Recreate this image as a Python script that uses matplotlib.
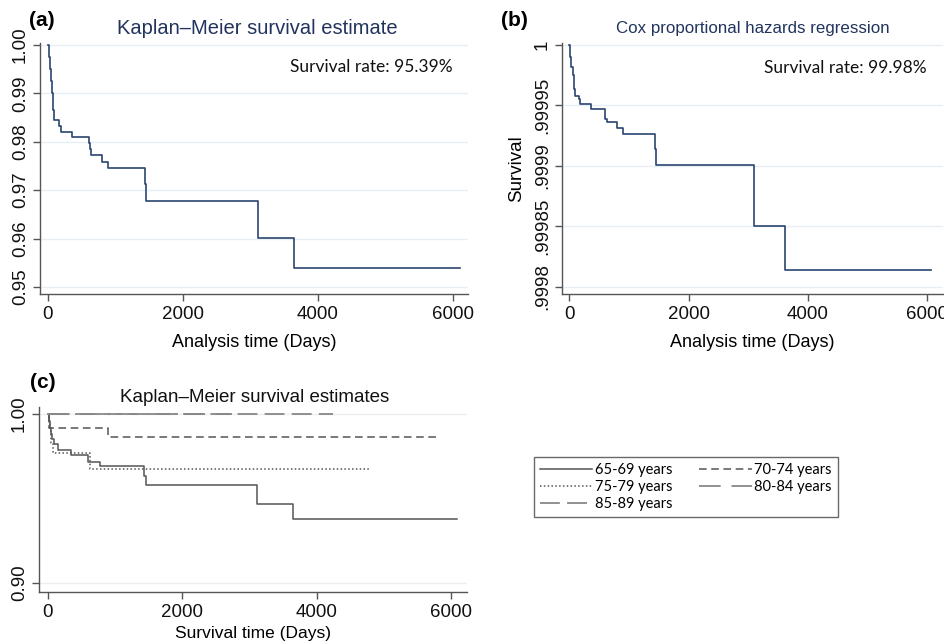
import matplotlib
matplotlib.use("Agg")
import matplotlib.pyplot as plt

# ---------------- data ----------------
# Panel (a): Kaplan-Meier overall (step times in days, survival after step)
km_t = [0, 15, 30, 45, 55, 70, 90, 168, 188, 360, 607, 620, 632, 795, 893, 1437, 1452, 3115, 3644, 6100]
km_s = [1.0, 0.9975, 0.9950, 0.9925, 0.9900, 0.9866, 0.9845, 0.9833, 0.9821, 0.9809, 0.9797,
        0.9785, 0.9773, 0.9759, 0.9746, 0.9712, 0.9678, 0.9601, 0.9540, 0.9540]

# Panel (b): Cox baseline survival
cox_t = [0, 17, 35, 55, 78, 95, 165, 188, 367, 600, 633, 795, 895, 1445, 1462, 3105, 3622, 6070]
cox_s = [1.0, 0.999990, 0.999982, 0.999975, 0.999964, 0.999958, 0.999955, 0.999951, 0.999947,
         0.999939, 0.999936, 0.999931, 0.999926, 0.999914, 0.999901, 0.999850, 0.999814, 0.999814]

# Panel (c): Kaplan-Meier by age group
g65_t = [0, 10, 25, 40, 60, 84, 149, 347, 596, 779, 1430, 1454, 3117, 3643, 6095]
g65_s = [1.0, 0.996, 0.992, 0.988, 0.985, 0.9822, 0.9787, 0.9757, 0.9718, 0.9692, 0.9635,
         0.9580, 0.9466, 0.9379, 0.9379]
g70_t = [0, 10, 20, 898, 5787]
g70_s = [1.0, 0.995, 0.9915, 0.9862, 0.9862]
g75_t = [0, 10, 30, 50, 75, 620, 4785]
g75_s = [1.0, 0.995, 0.990, 0.983, 0.9767, 0.9675, 0.9675]
g80_t = [0, 2740]
g80_s = [1.0, 1.0]
g85_t = [0, 4244]
g85_s = [1.0, 1.0]

group_labels = ["65-69 years", "70-74 years", "75-79 years", "80-84 years", "85-89 years"]

xticks = [0, 2000, 4000, 6000]
a_yticks = [0.95, 0.96, 0.97, 0.98, 0.99, 1.00]
a_yticklabels = ["0.95", "0.96", "0.97", "0.98", "0.99", "1.00"]
b_yticks = [0.9998, 0.99985, 0.9999, 0.99995, 1.0]
b_yticklabels = [".9998", ".99985", ".9999", ".99995", "1"]
c_yticks = [0.90, 1.00]
c_yticklabels = ["0.90", "1.00"]

# ---------------- style ----------------
SANS = ["Liberation Sans", "DejaVu Sans"]
CAL = ["Lato", "DejaVu Sans"]
NAVY = "#2a4470"
TITLE_BLUE = "#22345e"
plt.rcParams["font.family"] = SANS

W, H = 944, 644
fig = plt.figure(figsize=(W / 100, H / 100), dpi=100)


def make_ax(left, right, top, bottom):
    return fig.add_axes([left / W, 1 - bottom / H, (right - left) / W, (bottom - top) / H])


def style_ax(ax, grid_color):
    for s in ["top", "right"]:
        ax.spines[s].set_visible(False)
    for s in ["left", "bottom"]:
        ax.spines[s].set_color("#555555")
        ax.spines[s].set_linewidth(1.0)
    ax.tick_params(axis="both", direction="out", length=5, width=1.0, color="#555555",
                   labelsize=13.5, labelcolor="#111111")
    ax.tick_params(axis="y", labelrotation=90, pad=3)
    for lab in ax.get_yticklabels():
        lab.set_verticalalignment("center")
    ax.yaxis.grid(True, color=grid_color, linewidth=1.0)
    ax.set_axisbelow(True)
    ax.set_xticks(xticks)


# ---------- panel (a) ----------
axa = make_ax(40, 468, 43, 294)
axa.step(km_t, km_s, where="post", color=NAVY, linewidth=1.2)
axa.set_xlim(-118, 6222)
axa.set_ylim(0.94855, 1.0004)
axa.set_yticks(a_yticks)
axa.set_yticklabels(a_yticklabels)
style_ax(axa, "#e8eff4")
axa.set_xlabel("Analysis time (Days)", fontsize=13, labelpad=8)
fig.text(257 / W, 1 - 28 / H, "Kaplan\u2013Meier survival estimate", color=TITLE_BLUE,
         fontsize=14.5, ha="center", va="center")
fig.text(29 / W, 1 - 21 / H, "(a)", fontsize=15, fontweight="bold", ha="left", va="center")
fig.text(453 / W, 1 - 67 / H, "Survival rate: 95.39%", family=CAL, fontsize=12.5,
         ha="right", va="center", color="#111111")

# ---------- panel (b) ----------
axb = make_ax(562, 943, 43, 294)
axb.step(cox_t, cox_s, where="post", color=NAVY, linewidth=1.2)
axb.set_xlim(-122, 6267)
axb.set_ylim(0.999794, 1.0000017)
axb.set_yticks(b_yticks)
axb.set_yticklabels(b_yticklabels)
style_ax(axb, "#e8eff4")
axb.set_xlabel("Analysis time (Days)", fontsize=13, labelpad=8)
axb.set_ylabel("Survival", fontsize=13.5, labelpad=6)
fig.text(753 / W, 1 - 28 / H, "Cox proportional hazards regression", color=TITLE_BLUE,
         fontsize=12.2, ha="center", va="center")
fig.text(501 / W, 1 - 21 / H, "(b)", fontsize=15, fontweight="bold", ha="left", va="center")
fig.text(927 / W, 1 - 68 / H, "Survival rate: 99.98%", family=CAL, fontsize=12.5,
         ha="right", va="center", color="#111111")

# ---------- panel (c) ----------
axc = make_ax(39, 467, 407, 592)
gc = "#555555"
l65, = axc.step(g65_t, g65_s, where="post", color=gc, linewidth=1.1, linestyle="-")
l70, = axc.step(g70_t, g70_s, where="post", color=gc, linewidth=1.1, linestyle=(0, (5, 3)))
l75, = axc.step(g75_t, g75_s, where="post", color=gc, linewidth=1.1, linestyle=(0, (1, 1.5)))
l80, = axc.step(g80_t, g80_s, where="post", color="#888888", linewidth=1.3,
                linestyle=(0, (12, 6, 12, 3, 1.5, 3)))
l85, = axc.step(g85_t, g85_s, where="post", color="#888888", linewidth=1.3, linestyle=(0, (11, 4)))
axc.set_xlim(-134, 6239)
axc.set_ylim(0.89467, 1.00414)
axc.set_yticks(c_yticks)
axc.set_yticklabels(c_yticklabels)
style_ax(axc, "#eeeeee")
axc.set_xlabel("Survival time (Days)", fontsize=12.5, labelpad=4)
fig.text(255 / W, 1 - 397 / H, "Kaplan\u2013Meier survival estimates", fontsize=13.5,
         ha="center", va="center", color="#111111")
fig.text(30 / W, 1 - 383 / H, "(c)", fontsize=15, fontweight="bold", ha="left", va="center")

handles = [l65, l75, l85, l70, l80]
labels = [group_labels[0], group_labels[2], group_labels[4], group_labels[1], group_labels[3]]
leg = fig.legend(handles, labels, ncol=2, loc="upper left",
                 bbox_to_anchor=(534 / W, 1 - 457 / H), bbox_transform=fig.transFigure,
                 prop={"family": CAL, "size": 10.5}, frameon=True, fancybox=False,
                 edgecolor="#444444", handlelength=3.6, handletextpad=0.2,
                 columnspacing=1.8, labelspacing=0.2, borderpad=0.4, borderaxespad=0)
leg.get_frame().set_linewidth(1.0)

fig.savefig("out.png", dpi=100)
